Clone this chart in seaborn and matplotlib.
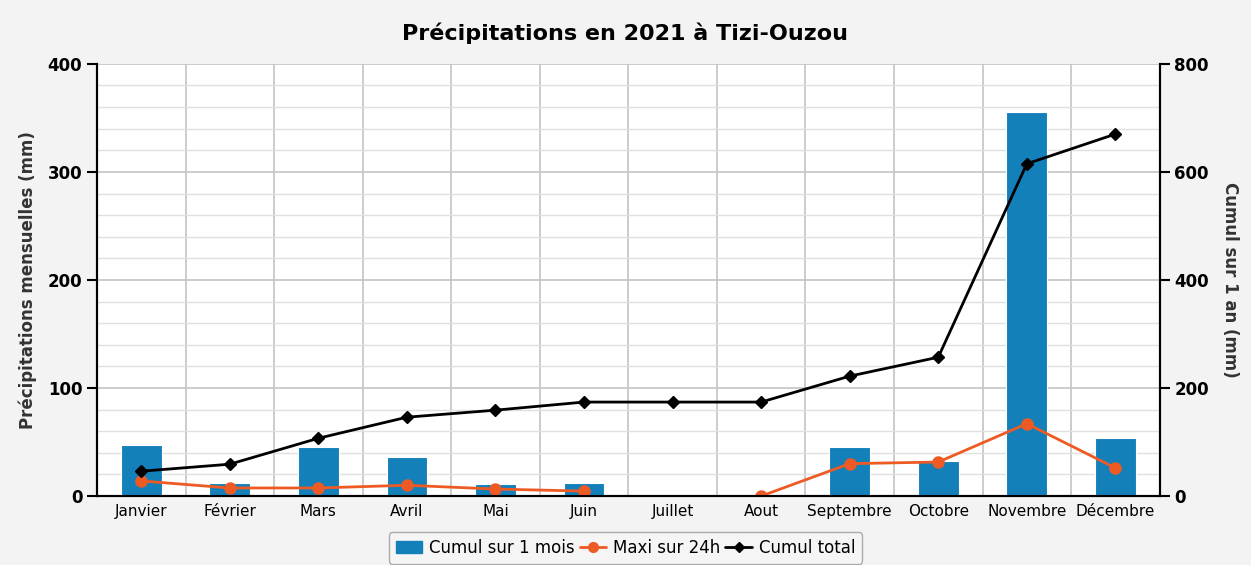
import numpy as np
import pandas as pd
import matplotlib
matplotlib.use("Agg")
import matplotlib.pyplot as plt
from matplotlib.ticker import MultipleLocator
from matplotlib.lines import Line2D
from matplotlib.patches import Patch
import seaborn as sns

# --- Data ---
months = ["Janvier", "Février", "Mars", "Avril", "Mai", "Juin", "Juillet",
          "Aout", "Septembre", "Octobre", "Novembre", "Décembre"]
cumul_mois = [47, 12, 45, 36, 11, 12, 0, 0, 45, 32, 355, 54]
maxi_24h = [14, 7.5, 7.5, 10, 6.5, 4.6, np.nan, 0, 30, 31.5, 67, 26]
cumul_total = [46, 59, 107, 146, 159, 174, 174, 174, 222, 257, 615, 670]

bar_color = "#1380BA"
orange = "#EE5A24"

sns.set_theme(style="white")
plt.rcParams["font.family"] = ["DejaVu Sans"]
plt.rcParams.update({"text.color": "black", "axes.labelcolor": "black",
                     "xtick.color": "black", "ytick.color": "black"})

fig = plt.figure(figsize=(12.51, 5.65), dpi=100, facecolor="#f3f3f3")
ax = fig.add_axes([0.0775, 0.122, 0.8495, 0.765])
ax.set_facecolor("white")

df = pd.DataFrame({"mois": months, "cumul": cumul_mois})
sns.barplot(data=df, x="mois", y="cumul", color=bar_color, width=0.46,
            saturation=1, ax=ax, zorder=3, edgecolor="white", linewidth=0.8)

x = np.arange(len(months))
ax.plot(x, maxi_24h, color=orange, marker="o", markersize=8, lw=2, zorder=5)

ax2 = ax.twinx()
ax2.plot(x, cumul_total, color="black", marker="D", markersize=6, lw=2, zorder=6)

ax.set_xlim(-0.5, len(months) - 0.5)
ax.set_ylim(0, 400)
ax2.set_ylim(0, 800)

ax.yaxis.set_major_locator(MultipleLocator(100))
ax.yaxis.set_minor_locator(MultipleLocator(20))
ax2.yaxis.set_major_locator(MultipleLocator(200))

# grid: horizontal major/minor, vertical at category boundaries
ax.set_axisbelow(True)
ax.grid(which="major", axis="y", color="#c4c4c4", lw=1.2, zorder=0)
ax.grid(which="minor", axis="y", color="#e0e0e0", lw=1.0, zorder=0)
for b in np.arange(0.5, len(months) - 0.5, 1):
    ax.axvline(b, color="#c4c4c4", lw=1.2, zorder=0)

ax.set_xticks(x)
ax.set_xticklabels(months, fontsize=11)
ax.set_xticks(np.arange(-0.5, len(months), 1), minor=True)
ax.tick_params(axis="x", which="major", length=0, pad=6)
ax.tick_params(axis="x", which="minor", length=8, width=1.5, color="black", direction="out")
ax.tick_params(axis="y", which="major", length=7, width=1.5, color="black",
               direction="out", labelsize=12, left=True)
ax.tick_params(axis="y", which="minor", length=0)
ax2.tick_params(axis="y", which="major", length=7, width=1.5, color="black",
                direction="out", labelsize=12, right=True)
for lab in ax.get_yticklabels() + ax2.get_yticklabels():
    lab.set_fontweight("bold")

ax.set_xlabel("")
ax.set_ylabel("Précipitations mensuelles (mm)", fontsize=12, fontweight="bold",
              color="#333333", labelpad=8)
ax2.set_ylabel("Cumul sur 1 an (mm)", fontsize=12, fontweight="bold",
               color="#333333", rotation=270, labelpad=22)

for a in (ax, ax2):
    a.spines["top"].set_visible(False)
    for s in ("left", "right", "bottom"):
        a.spines[s].set_color("black")
        a.spines[s].set_linewidth(1.5)

fig.suptitle("Précipitations en 2021 à Tizi-Ouzou", fontsize=16, fontweight="bold",
             y=0.96, color="black")

handles = [
    Patch(facecolor=bar_color, edgecolor=bar_color),
    Line2D([0], [0], color=orange, marker="o", lw=2, markersize=7),
    Line2D([0], [0], color="black", marker="D", lw=2, markersize=5),
]
labels = ["Cumul sur 1 mois", "Maxi sur 24h", "Cumul total"]
leg = fig.legend(handles, labels, loc="center", bbox_to_anchor=(0.5, 0.03), ncol=3,
                 frameon=True, fontsize=12, handlelength=1.6, columnspacing=0.3,
                 handletextpad=0.4, borderpad=0.4)
leg.get_frame().set_edgecolor("#999999")
leg.get_frame().set_facecolor("#f6f6f6")

fig.savefig("out.png", dpi=100, facecolor=fig.get_facecolor())
